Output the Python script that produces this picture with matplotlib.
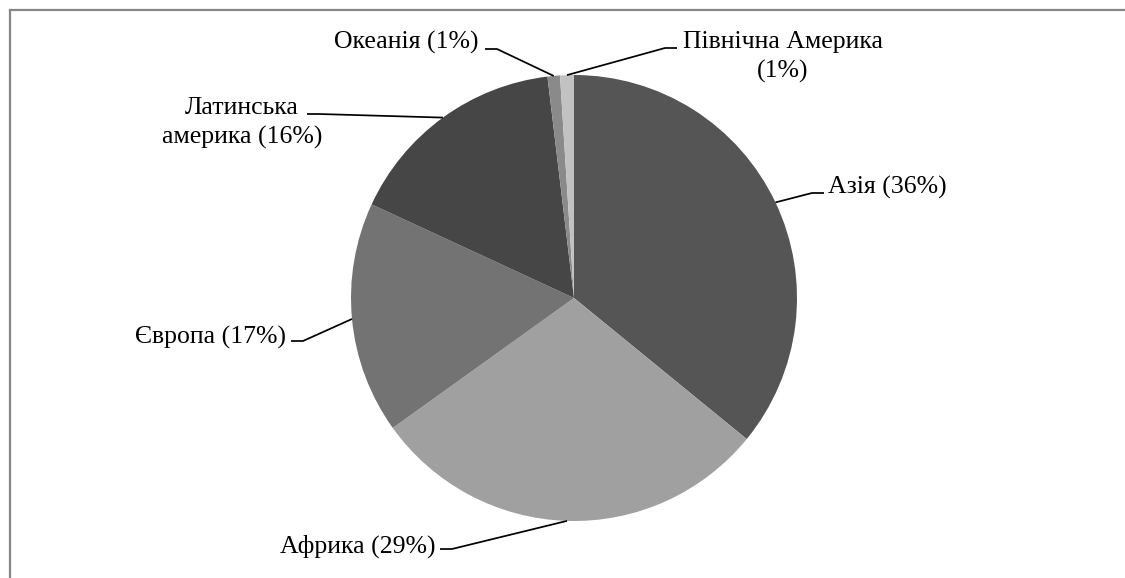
import matplotlib
matplotlib.use("Agg")
import matplotlib.pyplot as plt
from matplotlib.lines import Line2D
import numpy as np

W, H = 1125, 578

regions = ["Азія", "Африка", "Європа", "Латинська\nамерика", "Океанія", "Північна Америка\n"]
shares = [35.9, 29.2, 16.8, 16.2, 0.9, 1.0]
colors = ["#555555", "#a0a0a0", "#737373", "#464646", "#8a8a8a", "#c2c2c2"]

# label layout in pixel coords: (elbow x, elbow y, side, text x, text y, ha)
label_pos = [
    (812, 193, +1, 828, 187, "left"),
    (452, 549, -1, 435, 546, "right"),
    (303, 341, -1, 286, 337, "right"),
    (319, 114, -1, 242, 123, "center"),
    (497, 49, -1, 479, 42, "right"),
    (665, 48, +1, 783, 57, "center"),
]

plt.rcParams['font.family'] = ['Liberation Serif', 'DejaVu Serif']

fig = plt.figure(figsize=(W / 100, H / 100), dpi=100)
ax = fig.add_axes([0, 0, 1, 1])

cx, cy, r = 574, H - 298, 223
wedges, _ = ax.pie(shares, colors=colors, startangle=90, counterclock=False,
                   center=(cx, cy), radius=r, wedgeprops=dict(linewidth=0),
                   frame=True)
ax.set_xlim(0, W)
ax.set_ylim(0, H)
ax.set_aspect("equal")
ax.axis("off")

for w, name, val, lp in zip(wedges, regions, shares, label_pos):
    ang = np.deg2rad((w.theta1 + w.theta2) / 2)
    px, py = cx + r * np.cos(ang), cy + r * np.sin(ang)
    ex, ey, side, tx, ty, ha = lp
    sx = ex + 12 * side
    ax.plot([px, ex, sx], [py, H - ey, H - ey], color="black", lw=1.25,
            solid_capstyle="butt")
    pct = "(%d%%)" % round(val)
    if name.endswith("\n"):
        txt = name + pct
    else:
        txt = name + " " + pct
    ax.text(tx, H - ty, txt, ha=ha, va="center", fontsize=18.5,
            multialignment="center", linespacing=1.42)

# chart frame (only top and left visible)
fig.add_artist(Line2D([9.5 / W, 9.5 / W], [0, 1 - 10 / H], transform=fig.transFigure,
                      color="#878787", lw=1.6))
fig.add_artist(Line2D([9.5 / W, 1], [1 - 10 / H, 1 - 10 / H], transform=fig.transFigure,
                      color="#878787", lw=1.6))

fig.savefig("out.png", dpi=100, facecolor="white")
